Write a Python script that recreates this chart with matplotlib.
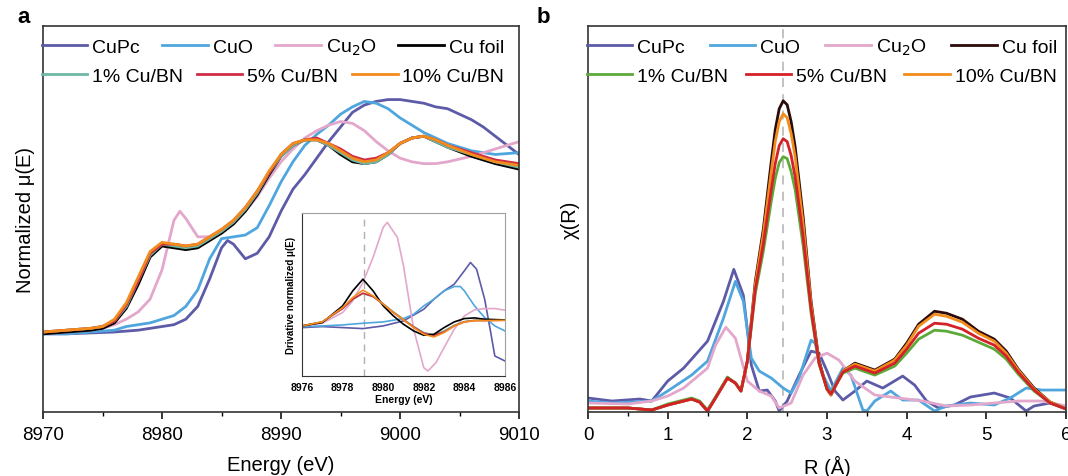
import matplotlib
matplotlib.use("Agg")
import matplotlib.pyplot as plt

plt.rcParams['font.family'] = ['Liberation Sans', 'DejaVu Sans']

# ---- panel a: XANES ----
e_main = [8970, 8972, 8974, 8975, 8976, 8977, 8978, 8979, 8980, 8981, 8982, 8983,
          8984, 8985, 8986, 8987, 8988, 8989, 8990, 8991, 8992, 8993, 8994, 8995,
          8996, 8997, 8998, 8999, 9000, 9001, 9002, 9003, 9004, 9006, 9008, 9010]
mu_foil = [-0.01, 0.00, 0.01, 0.02, 0.05, 0.13, 0.26, 0.41, 0.47, 0.46, 0.45, 0.46,
           0.50, 0.54, 0.59, 0.66, 0.75, 0.86, 0.96, 1.02, 1.05, 1.05, 1.02, 0.97,
           0.93, 0.92, 0.93, 0.97, 1.03, 1.06, 1.07, 1.04, 1.01, 0.96, 0.92, 0.89]
mu_10 = [0.00, 0.01, 0.02, 0.03, 0.07, 0.16, 0.30, 0.44, 0.49, 0.48, 0.47, 0.48,
         0.52, 0.56, 0.61, 0.68, 0.77, 0.88, 0.97, 1.03, 1.05, 1.05, 1.03, 0.99,
         0.95, 0.93, 0.94, 0.98, 1.03, 1.06, 1.07, 1.05, 1.02, 0.97, 0.93, 0.91]
mu_5 = [0.00, 0.01, 0.02, 0.03, 0.06, 0.15, 0.28, 0.43, 0.48, 0.48, 0.47, 0.48,
        0.52, 0.56, 0.61, 0.68, 0.77, 0.87, 0.97, 1.03, 1.05, 1.06, 1.03, 1.00,
        0.96, 0.94, 0.95, 0.98, 1.03, 1.06, 1.07, 1.05, 1.02, 0.98, 0.94, 0.92]
mu_1 = [0.00, 0.01, 0.02, 0.03, 0.06, 0.14, 0.28, 0.42, 0.48, 0.47, 0.46, 0.47,
        0.51, 0.55, 0.60, 0.67, 0.76, 0.87, 0.96, 1.02, 1.05, 1.05, 1.02, 0.98,
        0.94, 0.92, 0.93, 0.97, 1.03, 1.06, 1.07, 1.04, 1.01, 0.97, 0.93, 0.90]

e_cu2o = [8970, 8972, 8974, 8975, 8976, 8977, 8978, 8979, 8980, 8981, 8981.5, 8982,
          8983, 8984, 8985, 8986, 8987, 8988, 8989, 8990, 8991, 8992, 8993, 8994,
          8995, 8996, 8997, 8998, 8999, 9000, 9001, 9002, 9003, 9004, 9006, 9008, 9010]
mu_cu2o = [-0.01, 0.00, 0.01, 0.02, 0.04, 0.07, 0.11, 0.18, 0.34, 0.61, 0.66, 0.62,
           0.52, 0.52, 0.55, 0.59, 0.66, 0.74, 0.84, 0.93, 1.00, 1.06, 1.10, 1.13,
           1.15, 1.14, 1.10, 1.04, 0.99, 0.95, 0.93, 0.92, 0.92, 0.93, 0.96, 1.00, 1.04]

e_cuo = [8970, 8972, 8974, 8976, 8977, 8978, 8979, 8980, 8981, 8982, 8983, 8984,
         8985, 8986, 8987, 8988, 8989, 8990, 8991, 8992, 8993, 8994, 8995, 8996,
         8997, 8998, 8999, 9000, 9001, 9002, 9003, 9004, 9006, 9008, 9010]
mu_cuo = [-0.01, -0.01, 0.00, 0.01, 0.03, 0.04, 0.05, 0.07, 0.09, 0.14, 0.23, 0.40,
          0.51, 0.52, 0.53, 0.57, 0.69, 0.82, 0.93, 1.02, 1.08, 1.13, 1.19, 1.23,
          1.26, 1.25, 1.22, 1.17, 1.13, 1.09, 1.06, 1.03, 0.99, 0.97, 0.98]

e_cupc = [8970, 8972, 8974, 8976, 8978, 8980, 8981, 8982, 8983, 8984, 8985, 8985.5,
          8986, 8987, 8988, 8989, 8990, 8991, 8992, 8993, 8994, 8995, 8996, 8997,
          8998, 8999, 9000, 9001, 9002, 9003, 9004, 9005, 9006, 9007, 9008, 9009, 9010]
mu_cupc = [-0.01, -0.01, -0.005, 0.00, 0.01, 0.03, 0.04, 0.07, 0.14, 0.29, 0.46, 0.50,
           0.48, 0.40, 0.43, 0.52, 0.66, 0.78, 0.86, 0.95, 1.04, 1.12, 1.20, 1.24,
           1.26, 1.27, 1.27, 1.26, 1.25, 1.23, 1.22, 1.19, 1.16, 1.12, 1.07, 1.02, 0.97]

# ---- inset: derivative ----
ei = [8976, 8977, 8978, 8978.5, 8979, 8979.5, 8980, 8980.5, 8981, 8981.5, 8982,
      8982.5, 8983, 8983.5, 8984, 8984.5, 8985, 8986]
d_foil = [0, 0.10, 0.60, 1.05, 1.40, 1.05, 0.60, 0.30, 0.05, -0.15, -0.28, -0.25,
          -0.05, 0.12, 0.22, 0.24, 0.20, 0.18]
d_10 = [0, 0.12, 0.55, 0.85, 1.07, 0.90, 0.65, 0.40, 0.18, -0.05, -0.25, -0.33,
        -0.20, 0.00, 0.12, 0.16, 0.16, 0.17]
d_5 = [0, 0.12, 0.52, 0.80, 0.98, 0.88, 0.65, 0.40, 0.18, -0.03, -0.22, -0.28,
       -0.18, 0.00, 0.12, 0.16, 0.16, 0.17]
d_1 = [0, 0.12, 0.52, 0.80, 0.97, 0.88, 0.66, 0.42, 0.20, -0.02, -0.20, -0.27,
       -0.15, 0.02, 0.13, 0.17, 0.17, 0.18]
ei_cu2o = [8976, 8977, 8978, 8978.5, 8979, 8979.5, 8980, 8980.2, 8980.7, 8981, 8981.5,
           8982, 8982.2, 8982.6, 8983, 8983.5, 8984, 8984.5, 8985, 8985.5, 8986]
d_cu2o = [0, 0.08, 0.40, 0.75, 1.30, 2.05, 2.95, 3.10, 2.65, 1.80, -0.10, -1.25,
          -1.35, -1.10, -0.65, -0.10, 0.30, 0.48, 0.52, 0.52, 0.47]
ei_cupc = [8976, 8977, 8978, 8979, 8980, 8981, 8982, 8982.5, 8983, 8983.5, 8984,
           8984.3, 8984.6, 8985, 8985.3, 8985.5, 8986]
d_cupc = [-0.05, -0.02, -0.05, -0.08, 0.00, 0.15, 0.50, 0.80, 1.05, 1.25, 1.65,
          1.90, 1.70, 0.80, -0.20, -0.90, -1.05]
ei_cuo = [8976, 8977, 8978, 8979, 8980, 8981, 8981.5, 8982, 8982.5, 8983, 8983.5,
          8983.8, 8984, 8984.5, 8985, 8985.5, 8986]
d_cuo = [-0.02, 0.00, 0.03, 0.08, 0.12, 0.22, 0.35, 0.60, 0.80, 1.05, 1.18, 1.18,
         1.05, 0.60, 0.25, 0.00, -0.15]

# ---- panel b: FT-EXAFS ----
r_s = [0, 0.25, 0.5, 0.8, 1.0, 1.15, 1.3, 1.4, 1.5, 1.6, 1.75, 1.85, 1.92, 2.0,
       2.1, 2.2, 2.3, 2.35, 2.4, 2.45, 2.5, 2.55, 2.6, 2.7, 2.8, 2.9, 3.0, 3.05, 3.2, 3.35,
       3.6, 3.85, 4.0, 4.15, 4.35, 4.5, 4.7, 4.9, 5.1, 5.25, 5.4, 5.6, 5.8, 6.0]
chi_foil = [0.03, 0.03, 0.03, 0.01, 0.06, 0.09, 0.12, 0.09, 0.00, 0.13, 0.33, 0.28, 0.20, 0.50,
            1.30, 1.82, 2.50, 2.82, 3.03, 3.11, 3.07, 2.90, 2.65, 1.95, 1.10, 0.50, 0.22, 0.16,
            0.40, 0.48, 0.41, 0.52, 0.68, 0.87, 1.00, 0.98, 0.92, 0.80, 0.72, 0.60, 0.42, 0.23,
            0.09, 0.02]
chi_10 = [0.03, 0.03, 0.03, 0.01, 0.06, 0.09, 0.12, 0.09, 0.00, 0.13, 0.33, 0.28, 0.20, 0.50,
          1.27, 1.77, 2.40, 2.70, 2.90, 2.98, 2.94, 2.78, 2.55, 1.88, 1.07, 0.49, 0.22, 0.16,
          0.40, 0.47, 0.40, 0.51, 0.66, 0.85, 0.97, 0.95, 0.89, 0.78, 0.70, 0.58, 0.41, 0.22,
          0.09, 0.02]
chi_5 = [0.03, 0.03, 0.03, 0.01, 0.06, 0.09, 0.12, 0.09, 0.00, 0.13, 0.33, 0.28, 0.20, 0.50,
         1.22, 1.67, 2.22, 2.48, 2.66, 2.73, 2.70, 2.56, 2.35, 1.75, 1.02, 0.48, 0.22, 0.17,
         0.39, 0.45, 0.38, 0.48, 0.62, 0.78, 0.88, 0.87, 0.82, 0.73, 0.66, 0.55, 0.39, 0.21,
         0.08, 0.02]
chi_1 = [0.03, 0.03, 0.03, 0.01, 0.07, 0.10, 0.13, 0.10, 0.01, 0.14, 0.34, 0.28, 0.20, 0.50,
         1.18, 1.60, 2.10, 2.33, 2.49, 2.55, 2.53, 2.40, 2.22, 1.66, 0.98, 0.47, 0.22, 0.18,
         0.38, 0.43, 0.36, 0.45, 0.58, 0.72, 0.81, 0.80, 0.76, 0.69, 0.62, 0.52, 0.37, 0.20,
         0.08, 0.02]

r_cupc = [0, 0.3, 0.65, 0.8, 1.0, 1.2, 1.5, 1.7, 1.83, 1.95, 2.05, 2.15, 2.25, 2.35,
          2.4, 2.5, 2.65, 2.8, 2.9, 3.0, 3.1, 3.2, 3.35, 3.5, 3.7, 3.95, 4.1, 4.25,
          4.4, 4.6, 4.8, 5.1, 5.3, 5.5, 5.6, 5.8, 6.0]
chi_cupc = [0.13, 0.10, 0.12, 0.10, 0.30, 0.43, 0.70, 1.10, 1.42, 1.16, 0.46, 0.20, 0.21, 0.10,
            0.00, 0.10, 0.36, 0.60, 0.58, 0.40, 0.20, 0.11, 0.20, 0.30, 0.23, 0.35, 0.26, 0.10,
            0.03, 0.06, 0.14, 0.18, 0.13, 0.00, 0.05, 0.08, 0.03]
r_cuo = [0, 0.3, 0.8, 1.0, 1.3, 1.5, 1.7, 1.85, 1.95, 2.05, 2.15, 2.3, 2.45, 2.55,
         2.65, 2.8, 2.85, 2.95, 3.05, 3.2, 3.3, 3.45, 3.5, 3.6, 3.8, 3.95, 4.15, 4.35,
         4.5, 4.8, 5.1, 5.3, 5.5, 5.7, 6.0]
chi_cuo = [0.10, 0.08, 0.10, 0.20, 0.36, 0.50, 0.93, 1.30, 1.10, 0.53, 0.40, 0.33, 0.23, 0.18,
           0.33, 0.71, 0.68, 0.36, 0.20, 0.43, 0.36, 0.01, 0.00, 0.10, 0.20, 0.11, 0.11, 0.00,
           0.05, 0.08, 0.06, 0.13, 0.23, 0.21, 0.21]
r_cu2o = [0, 0.5, 0.8, 1.0, 1.2, 1.35, 1.5, 1.6, 1.73, 1.85, 2.0, 2.15, 2.3, 2.4, 2.55,
          2.7, 2.85, 3.0, 3.15, 3.35, 3.6, 3.9, 4.2, 4.5, 4.8, 5.1, 5.4, 5.7, 6.0]
chi_cu2o = [0.08, 0.07, 0.10, 0.15, 0.23, 0.33, 0.43, 0.66, 0.84, 0.73, 0.30, 0.20, 0.15, 0.03,
            0.08, 0.36, 0.53, 0.58, 0.51, 0.30, 0.16, 0.13, 0.10, 0.05, 0.06, 0.08, 0.10, 0.10, 0.05]

# colours
C_CUPC = '#5D5BA8'
C_CUO = '#4FA6DE'
C_CU2O = '#E3A7CB'
C_ORANGE = '#F28C1C'

fig = plt.figure(figsize=(10.68, 4.77), dpi=100)
ax1 = fig.add_axes([0.0403, 0.1342, 0.4457, 0.8092])
ax2 = fig.add_axes([0.5506, 0.1342, 0.4475, 0.8092])
axin = fig.add_axes([0.2828, 0.2096, 0.1900, 0.3417])

lw = 2.0
# panel a
l_cupc, = ax1.plot(e_cupc, mu_cupc, color=C_CUPC, lw=lw, label='CuPc')
l_cuo, = ax1.plot(e_cuo, mu_cuo, color=C_CUO, lw=lw, label='CuO')
l_cu2o, = ax1.plot(e_cu2o, mu_cu2o, color=C_CU2O, lw=lw, label='Cu$_2$O')
l_foil, = ax1.plot(e_main, mu_foil, color='black', lw=lw, label='Cu foil')
l_1, = ax1.plot(e_main, mu_1, color='#6DB8A6', lw=lw, label='1% Cu/BN')
l_5, = ax1.plot(e_main, mu_5, color='#CF2D45', lw=lw, label='5% Cu/BN')
l_10, = ax1.plot(e_main, mu_10, color=C_ORANGE, lw=lw, label='10% Cu/BN')

ax1.set_xlim(8970, 9010)
ax1.set_ylim(-0.437, 1.672)
ax1.set_xticks([8970, 8980, 8990, 9000, 9010])
ax1.set_xticks([8975, 8985, 8995, 9005], minor=True)
ax1.set_yticks([])
ax1.set_xlabel('Energy (eV)', fontsize=14.5, labelpad=9)
ax1.set_ylabel('Normalized μ(E)', fontsize=14.5, labelpad=6)


def two_row_legend(ax, row1, row2, width):
    # each row laid out on its own, stretched to the same width
    kw = dict(frameon=False, fontsize=14, handlelength=2.35, handletextpad=0.25,
              borderpad=0, borderaxespad=0, mode='expand', loc='center')
    lg1 = ax.legend(row1, [h.get_label() for h in row1], ncol=len(row1),
                    bbox_to_anchor=(-0.003, 0.915, width, 0.06), **kw)
    ax.add_artist(lg1)
    ax.legend(row2, [h.get_label() for h in row2], ncol=len(row2),
              bbox_to_anchor=(-0.003, 0.840, width, 0.06), **kw)


two_row_legend(ax1, [l_cupc, l_cuo, l_cu2o, l_foil], [l_1, l_5, l_10], 0.972)

# inset
axin.axvline(8979.05, color='#B0B0B0', lw=1.0, ls=(0, (5, 4)))
ilw = 1.2
axin.plot(ei_cupc, d_cupc, color=C_CUPC, lw=ilw)
axin.plot(ei_cuo, d_cuo, color=C_CUO, lw=ilw)
axin.plot(ei_cu2o, d_cu2o, color=C_CU2O, lw=ilw)
axin.plot(ei, d_1, color='#6DB8A6', lw=ilw)
axin.plot(ei, d_5, color='#CF2D45', lw=ilw)
axin.plot(ei, d_foil, color='black', lw=ilw)
axin.plot(ei, d_10, color=C_ORANGE, lw=ilw)
axin.set_xlim(8976, 8986)
axin.set_ylim(-1.5, 3.38)
axin.set_xticks([8976, 8978, 8980, 8982, 8984, 8986])
axin.set_yticks([])
axin.tick_params(axis='x', labelsize=7.5, length=0, pad=4)
for t in axin.get_xticklabels():
    t.set_fontweight('bold')
axin.set_xlabel('Energy (eV)', fontsize=7.5, fontweight='bold', labelpad=2)
axin.set_ylabel('Drivative normalized μ(E)', fontsize=7, fontweight='bold', labelpad=4)
for side in ['top', 'right']:
    axin.spines[side].set_color('#A0A0A0')
for side in ['left', 'bottom']:
    axin.spines[side].set_color('#333333')

# panel b
ax2.axvline(2.45, color='#BDBDBD', lw=1.3, ls=(0, (5, 4)), zorder=0)
m_cupc, = ax2.plot(r_cupc, chi_cupc, color=C_CUPC, lw=lw, label='CuPc')
m_cuo, = ax2.plot(r_cuo, chi_cuo, color=C_CUO, lw=lw, label='CuO')
m_cu2o, = ax2.plot(r_cu2o, chi_cu2o, color=C_CU2O, lw=lw, label='Cu$_2$O')
m_foil, = ax2.plot(r_s, chi_foil, color='#2B0A0A', lw=lw, label='Cu foil')
m_10, = ax2.plot(r_s, chi_10, color=C_ORANGE, lw=lw, label='10% Cu/BN')
m_1, = ax2.plot(r_s, chi_1, color='#5BAA3A', lw=lw, label='1% Cu/BN')
m_5, = ax2.plot(r_s, chi_5, color='#D42027', lw=lw, label='5% Cu/BN')

ax2.set_xlim(0, 6)
ax2.set_ylim(-0.01, 3.86)
ax2.set_xticks([0, 1, 2, 3, 4, 5, 6])
ax2.set_xticks([0.5, 1.5, 2.5, 3.5, 4.5, 5.5], minor=True)
ax2.set_yticks([])
ax2.set_xlabel('R (Å)', fontsize=14.5, labelpad=9)
ax2.set_ylabel('χ(R)', fontsize=14.5, labelpad=6)
two_row_legend(ax2, [m_cupc, m_cuo, m_cu2o, m_foil], [m_1, m_5, m_10], 0.984)

for ax in (ax1, ax2):
    ax.tick_params(axis='x', which='major', direction='out', length=5, width=1.1,
                   labelsize=13.5, pad=5)
    ax.tick_params(axis='x', which='minor', direction='out', length=3, width=1.0)
    for s in ax.spines.values():
        s.set_linewidth(1.2)
        s.set_color('#333333')

fig.text(0.016, 0.952, 'a', fontsize=16, fontweight='bold')
fig.text(0.502, 0.952, 'b', fontsize=16, fontweight='bold')

fig.savefig('out.png', dpi=100)
